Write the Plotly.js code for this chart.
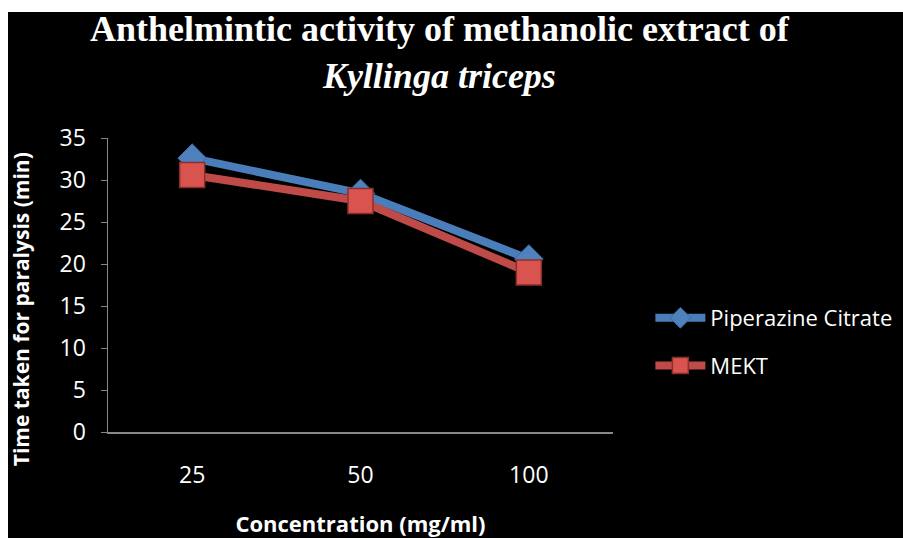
<!DOCTYPE html>
<html><head><meta charset="utf-8">
<script src="https://cdn.plot.ly/plotly-3.0.1.min.js"></script>
<style>html,body{margin:0;padding:0;background:#fff;width:903px;height:538px;overflow:hidden}
#c{position:absolute;left:8px;top:12px;width:895px;height:526px;background:#000}</style>
</head><body><div id="c"></div>
<script>
const categories = ["25", "50", "100"];
const piperazine = [32.6, 28.4, 20.6];
const mekt = [30.6, 27.5, 19.0];
const yTicks = [0, 5, 10, 15, 20, 25, 30, 35];

const traces = [
  {x: categories, y: piperazine, name: "Piperazine Citrate", type: "scatter", mode: "lines+markers",
   legendgroup: "a",
   line: {color: "#4a7ebb", width: 8},
   marker: {symbol: "diamond", size: 22, color: "#4f81bd", line: {color: "#3a6aa5", width: 1}}},
  {x: categories, y: mekt, name: "MEKT", type: "scatter", mode: "lines+markers",
   legendgroup: "b",
   line: {color: "#be4b48", width: 8},
   marker: {symbol: "square", size: 25, color: "#d9534f", line: {color: "#8c2f2c", width: 1.5}}}
];

const layout = {
  width: 895, height: 526,
  paper_bgcolor: "#000", plot_bgcolor: "#000",
  margin: {l: 100, r: 290, t: 126, b: 106, autoexpand: false},
  title: {text: "<b>Anthelmintic activity of methanolic extract of</b><br><b><i>Kyllinga triceps</i></b>",
          font: {family: "Liberation Serif", size: 36, color: "#fff"},
          x: 0.482, xanchor: "center", y: 0.945, yanchor: "top"},
  showlegend: true,
  legend: {x: 1.074, xanchor: "left", y: 0.306, yanchor: "middle", bgcolor: "rgba(0,0,0,0)",
           font: {family: "Open Sans", size: 22, color: "#fff"}, traceorder: "grouped", tracegroupgap: 16,
           itemwidth: 50},
  xaxis: {type: "category", range: [-0.5, 2.5], showgrid: false, zeroline: false,
          showline: true, linecolor: "#888", linewidth: 1.5, ticks: "", ticklabelstandoff: 22,
          tickfont: {family: "Open Sans", size: 23, color: "#fff"},
          title: {text: "<b>Concentration (mg/ml)</b>", font: {family: "Open Sans", size: 22, color: "#fff"}, standoff: 34}},
  yaxis: {range: [0, 35], tickvals: yTicks, showgrid: false, zeroline: false,
          showline: true, linecolor: "#888", linewidth: 1.5, ticks: "outside", ticklen: 6, tickcolor: "#888",
          tickfont: {family: "Open Sans", size: 23, color: "#fff"}, ticklabelstandoff: 10},
  annotations: [{text: "<b>Time taken for paralysis (min)</b>", textangle: -90, showarrow: false,
                 xref: "paper", yref: "paper", x: -0.172, y: 0.418, xanchor: "center", yanchor: "middle",
                 font: {family: "Open Sans", size: 21, color: "#fff"}}]
};
Plotly.newPlot("c", traces, layout, {displayModeBar: false, staticPlot: true});
</script></body></html>
